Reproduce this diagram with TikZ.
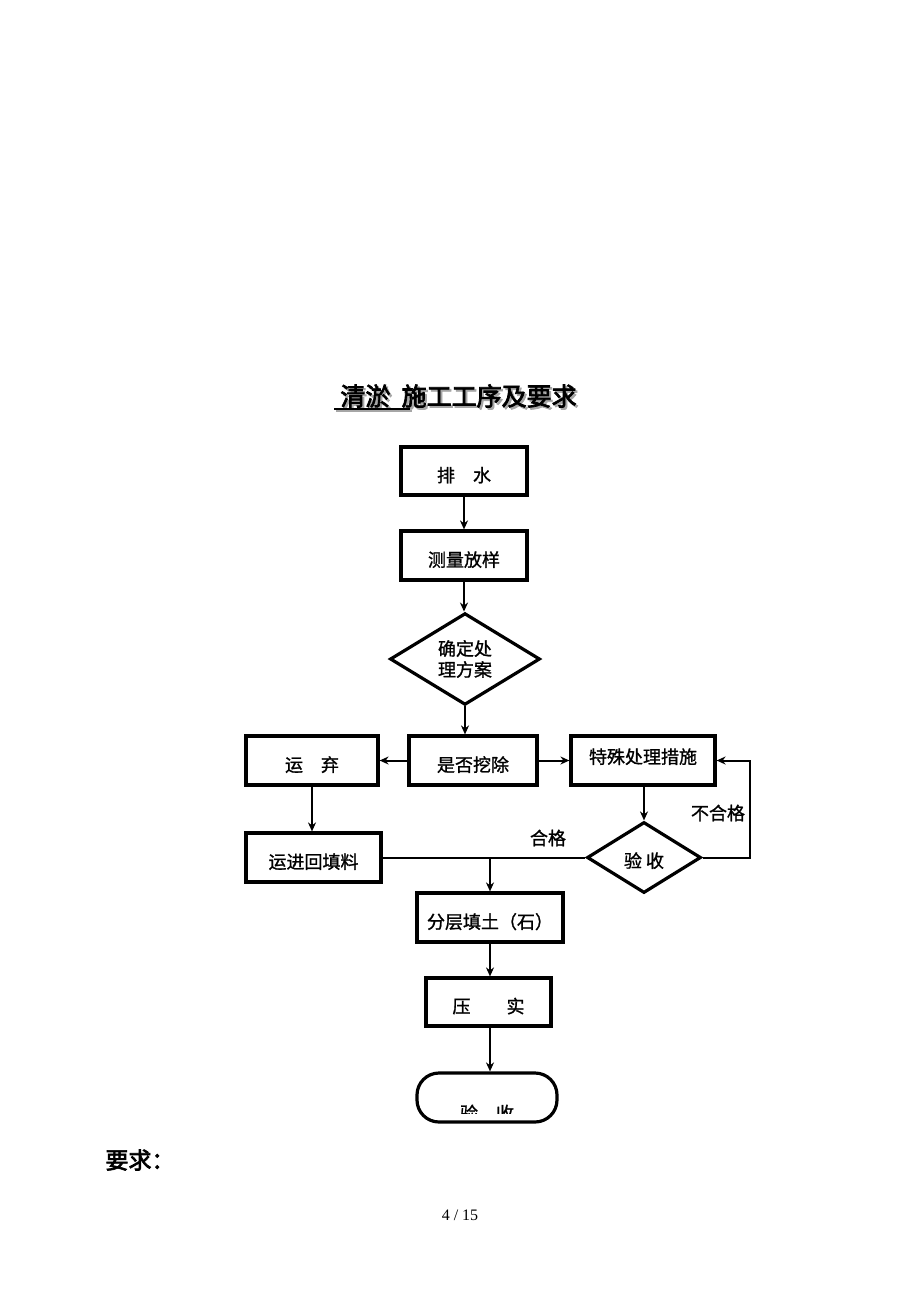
\documentclass[tikz,border=0pt]{standalone}
\usepackage{fontspec}
\setmainfont{Liberation Serif}
\newfontfamily\cjk[FakeBold=1.2]{Noto Sans CJK SC}
\newfontfamily\cjkb[FakeBold=3]{Noto Sans CJK SC}
\usetikzlibrary{shapes.geometric,arrows.meta}
\tikzset{
  every node/.style={font=\cjk\fontsize{18}{21}\selectfont},
  box/.style={draw, line width=3.2pt, rectangle, inner sep=0pt, text height=22pt, text depth=0pt},
  dia/.style={draw, line width=3.2pt, diamond, inner sep=0pt},
  arr/.style={line width=2pt, -{Stealth[length=9pt,width=8pt]}},
  ln/.style={line width=2pt},
}
\begin{document}
\begin{tikzpicture}[x=1pt,y=-1pt]
\useasboundingbox (0,0) rectangle (920,1302);
% title
\node[text=gray!70, font=\cjkb\fontsize{25}{28}\selectfont] at (460.5,398) {清淤\ \ 施工工序及要求};
\node (title) [font=\cjkb\fontsize{25}{28}\selectfont] at (458.5,396) {清淤\ \ 施工工序及要求};
\draw[line width=2pt, gray!70] (336,411) -- (412,411);
\draw[line width=2pt] (334,409) -- (410,409);
% boxes
\node (pai) [box, minimum width=126pt, minimum height=48pt] at (464,471) {排\quad 水};
\node (cl) [box, minimum width=126pt, minimum height=49pt] at (464,555.5) {测量放样};
\node (qd) [dia, minimum width=150pt, minimum height=86pt, align=center] at (465,659) {确定处\\理方案};
\node (sf) [box, minimum width=128pt, minimum height=49pt] at (473,760.5) {是否挖除};
\node (yq) [box, minimum width=132pt, minimum height=49pt] at (312,760.5) {运\quad 弃};
\node (ts) [box, minimum width=144pt, minimum height=49pt, text height=14pt, text depth=8pt] at (643,760.5) {特殊处理措施};
\node (ys) [dia, minimum width=114pt, minimum height=71pt, text height=20pt, text depth=0pt] at (644,857.5) {验\ 收};
\node (yj) [box, minimum width=135pt, minimum height=49pt] at (313.5,857.5) {运进回填料};
\node (fc) [box, minimum width=146pt, minimum height=49pt] at (490,917.5) {分层填土（石）};
\node (ys2) [box, minimum width=125pt, minimum height=48pt] at (488.5,1002) {压\qquad 实};
\node (end) [draw, line width=3.2pt, rounded corners=22pt, minimum width=140pt, minimum height=49pt] at (487,1097.5) {};
\begin{scope}
\clip (420,1076) rectangle (555,1113);
\node at (487,1113) {验\quad 收};
\end{scope}
% connectors
\draw[arr] (pai.south) -- (cl.north);
\draw[arr] (cl.south) -- (cl.south |- qd.north);
\draw[arr] (qd.south) -- (qd.south |- sf.north);
\draw[arr] (sf.west) -- (yq.east);
\draw[arr] (sf.east) -- (ts.west);
\draw[arr] (ts.south -| ys.north) -- (ys.north);
\draw[arr] (yq.south) -- (yq.south |- yj.north);
\coordinate (c1) at (750,857.5);
\coordinate (c2) at (750,760.5);
\draw[arr] (ys.east) -- (c1) -- (c2) -- (ts.east);
\draw[ln] (yj.east) -- (ys.west);
\coordinate (j) at (490,857.5);
\draw[arr] (j) -- (fc.north);
\draw[arr] (fc.south) -- (fc.south |- ys2.north);
\draw[arr] (fc.south |- ys2.south) -- (fc.south |- end.north);
% labels
\node (bhg) at (718,813) {不合格};
\node (hg) at (548,838) {合格};
\node (yqq) [font=\cjkb\fontsize{23}{26}\selectfont] at (140,1160) {要求：};
\node (pg) [font=\fontsize{16}{18}\selectfont] at (460,1215) {4 / 15};
\end{tikzpicture}
\end{document}
